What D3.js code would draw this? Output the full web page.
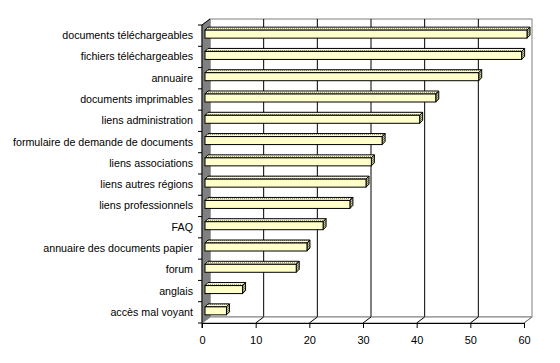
<!DOCTYPE html>
<html>
<head>
<meta charset="utf-8">
<script src="https://cdn.jsdelivr.net/npm/d3@7"></script>
<style>
body { margin: 0; background: #fff; }
text { font-family: "Liberation Sans", Arial, sans-serif; font-size: 11px; fill: #000; }
</style>
</head>
<body>
<div id="chart"></div>
<script>
// categories, top to bottom
var categories = ["documents téléchargeables", "fichiers téléchargeables", "annuaire",
  "documents imprimables", "liens administration", "formulaire de demande de documents",
  "liens associations", "liens autres régions", "liens professionnels", "FAQ",
  "annuaire des documents papier", "forum", "anglais", "accès mal voyant"];
var values = [60, 59, 51, 43, 40, 33, 31, 30, 27, 22, 19, 17, 7, 4];
var xTicks = [0, 10, 20, 30, 40, 50, 60];

var width = 560, height = 363;
var depth = {dx: 8, dy: -6};   // depth of the 3d box
var barOff = {dx: 3, dy: -1.5}; // where the bar front face sits
var barDepth = 3, barH = 8;

var x = d3.scaleLinear().domain([0, 60]).range([202, 524]);
var y = d3.scaleBand().domain(categories).range([25, 323]);

var svg = d3.select("#chart").append("svg")
  .attr("width", width).attr("height", height);

// dither patterns like the old excel look
var defs = svg.append("defs");
var pt = defs.append("pattern").attr("id", "topDots").attr("patternUnits", "userSpaceOnUse")
  .attr("width", 2).attr("height", 2);
pt.append("rect").attr("width", 2).attr("height", 2).attr("fill", "#ffffcc");
pt.append("rect").attr("width", 1).attr("height", 1).attr("fill", "#999980");
var ps = defs.append("pattern").attr("id", "sideDots").attr("patternUnits", "userSpaceOnUse")
  .attr("width", 2).attr("height", 2);
ps.append("rect").attr("width", 2).attr("height", 2).attr("fill", "#cccc99");
ps.append("rect").attr("width", 1).attr("height", 1).attr("fill", "#808066");
ps.append("rect").attr("x", 1).attr("y", 1).attr("width", 1).attr("height", 1).attr("fill", "#808066");

var y0 = y.range()[0], y1 = y.range()[1];
var x0 = x(0), x1 = x(60);

// back wall
svg.append("rect")
  .attr("x", x0 + depth.dx).attr("y", y0 + depth.dy)
  .attr("width", x1 - x0).attr("height", y1 - y0)
  .attr("fill", "#fff").attr("stroke", "#808080");

// gridlines on back wall
svg.selectAll(".grid").data(xTicks.filter(function (d) { return d > 0 && d < 60; }))
  .enter().append("line")
  .attr("x1", function (d) { return x(d) + depth.dx; })
  .attr("x2", function (d) { return x(d) + depth.dx; })
  .attr("y1", y0 + depth.dy).attr("y2", y1 + depth.dy)
  .attr("stroke", "#000");

// floor
svg.append("path")
  .attr("d", "M" + x0 + "," + y1 + "L" + (x0 + depth.dx) + "," + (y1 + depth.dy) +
    "L" + (x1 + depth.dx) + "," + (y1 + depth.dy) + "L" + x1 + "," + y1 + "Z")
  .attr("fill", "#fff").attr("stroke", "#808080");
svg.selectAll(".floor").data(xTicks.filter(function (d) { return d > 0; }))
  .enter().append("line")
  .attr("x1", function (d) { return x(d); })
  .attr("x2", function (d) { return x(d) + depth.dx; })
  .attr("y1", y1).attr("y2", y1 + depth.dy)
  .attr("stroke", function (d) { return d == 60 ? "#808080" : "#000"; });

// left wall
svg.append("path")
  .attr("d", "M" + x0 + "," + y0 + "L" + (x0 + depth.dx) + "," + (y0 + depth.dy) +
    "L" + (x0 + depth.dx) + "," + (y1 + depth.dy) + "L" + x0 + "," + y1 + "Z")
  .attr("fill", "#808080").attr("stroke", "#808080");

// bars
var bars = svg.selectAll(".bar").data(values).enter().append("g").attr("class", "bar");
function barTop(d, i) { return y(categories[i]) + y.bandwidth() / 2 + barOff.dy - barH / 2; }
function bx0() { return x(0) + barOff.dx; }
function bx1(d) { return x(d) + barOff.dx; }

bars.append("path") // top face
  .attr("d", function (d, i) {
    var t = barTop(d, i);
    return "M" + bx0() + "," + t + "L" + (bx0() + barDepth) + "," + (t - barDepth) +
      "L" + (bx1(d) + barDepth) + "," + (t - barDepth) + "L" + bx1(d) + "," + t + "Z";
  })
  .attr("fill", "url(#topDots)").attr("stroke", "#000").attr("stroke-linejoin", "round");
bars.append("path") // side face
  .attr("d", function (d, i) {
    var t = barTop(d, i);
    return "M" + bx1(d) + "," + t + "L" + (bx1(d) + barDepth) + "," + (t - barDepth) +
      "L" + (bx1(d) + barDepth) + "," + (t + barH - barDepth) + "L" + bx1(d) + "," + (t + barH) + "Z";
  })
  .attr("fill", "url(#sideDots)").attr("stroke", "#000").attr("stroke-linejoin", "round");
bars.append("rect") // front face
  .attr("x", bx0())
  .attr("y", function (d, i) { return barTop(d, i); })
  .attr("width", function (d) { return bx1(d) - bx0(); })
  .attr("height", barH)
  .attr("fill", "#ffffcc").attr("stroke", "#000");

// x axis
var xAxis = svg.append("g")
  .attr("transform", "translate(0," + y1 + ")")
  .call(d3.axisBottom(x).tickValues(xTicks).tickSizeInner(5).tickSizeOuter(0).tickPadding(8));
xAxis.select(".domain").attr("stroke", "#000");
xAxis.selectAll("text").style("font-size", "11px");

// y axis: labels only, ticks drawn at band edges
var yAxis = svg.append("g")
  .attr("transform", "translate(" + x0 + ",0)")
  .call(d3.axisLeft(y).tickSize(0).tickPadding(9));
yAxis.select(".domain").remove();
yAxis.selectAll("text").style("font-size", "10.7px");

var edges = categories.map(function (c) { return y(c); }).concat([y1]);
svg.selectAll(".ytick").data(edges).enter().append("line")
  .attr("x1", x0 - 4).attr("x2", x0)
  .attr("y1", function (d) { return d; }).attr("y2", function (d) { return d; })
  .attr("stroke", "#000");
svg.append("line")
  .attr("x1", x0).attr("x2", x0).attr("y1", y0).attr("y2", y1 + 5)
  .attr("stroke", "#000");
svg.append("line")
  .attr("x1", x0).attr("x2", x0 + depth.dx).attr("y1", y0).attr("y2", y0 + depth.dy)
  .attr("stroke", "#000");
</script>
</body>
</html>
